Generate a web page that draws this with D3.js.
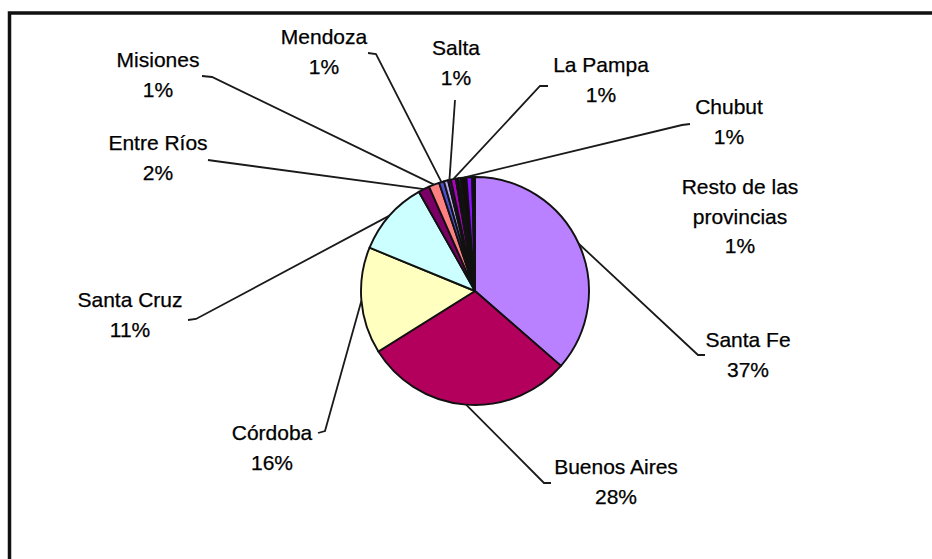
<!DOCTYPE html>
<html>
<head>
<meta charset="utf-8">
<script src="https://cdn.jsdelivr.net/npm/d3@7"></script>
<style>
  html, body { margin: 0; padding: 0; background: #fff; }
  svg { display: block; }
</style>
</head>
<body>
<svg id="chart" width="932" height="559"></svg>
<script>
// slices, clockwise from 12 o'clock (share of total)
const provinces = ["Santa Fe", "Buenos Aires", "Córdoba", "Santa Cruz", "Entre Ríos", "Misiones",
  "Mendoza", "", "Salta", "La Pampa", "", "", "Chubut", "", "Resto de las provincias"]
const shares = [36.4, 29.7, 15.1, 10.6, 1.6, 1.5, 0.7, 0.6, 0.4, 0.7, 0.4, 0.3, 0.8, 0.8, 0.4]
// percentages printed in the labels
const pctText = ["37%", "28%", "16%", "11%", "2%", "1%", "1%", "", "1%", "1%", "", "", "1%", "", "1%"]
const colors = ["#b980ff", "#b3005c", "#ffffc0", "#ccffff", "#7a0066", "#ff8080", "#4f4fd0",
  "#b8a8e8", "#4a0070", "#b000c0", "#150c0c", "#00a0a0", "#150c0c", "#8a10ff", "#150c0c"]

// label placement: [centre x, first line centre y, leader end x, y, elbow x, y] (null = no leader)
const labelPos = {
  "Santa Fe": [748, 340, 705, 355, 698, 355],
  "Buenos Aires": [616, 467, 551, 483, 544, 483],
  "Córdoba": [272, 433, 318, 433, 325, 431],
  "Santa Cruz": [130, 300, 188, 320, 196, 319],
  "Entre Ríos": [158, 143, 208, 160, 215, 161],
  "Misiones": [158, 60, 202, 76, 212, 77],
  "Mendoza": [324, 37, 368, 53, 376, 54],
  "Salta": [456, 48, 455, 100, 455, 100],
  "La Pampa": [601, 65, 548, 86, 540, 86],
  "Chubut": [729, 107, 690, 124, 682, 125],
  "Resto de las provincias": [740, 187, null, null, null, null]
}
const multiLine = { "Resto de las provincias": ["Resto de las", "provincias"] }

const cx = 475, cy = 291, radius = 114
const lineH = 29.5

const svg = d3.select("#chart")
  .attr("font-family", "'Liberation Sans', Arial, sans-serif")
  .attr("font-size", 21)

// frame
svg.append("rect")
  .attr("x", 9.5).attr("y", 13)
  .attr("width", 1000).attr("height", 1000)
  .attr("fill", "none")
  .attr("stroke", "#111")
  .attr("stroke-width", 3.5)

const data = provinces.map((p, i) => ({ name: p, value: shares[i], pct: pctText[i], color: colors[i] }))

const pie = d3.pie().sort(null).value(d => d.value)
const arcs = pie(data)
const arc = d3.arc().innerRadius(0).outerRadius(radius)

const g = svg.append("g").attr("transform", `translate(${cx},${cy})`)

// leader lines first so the pie covers their ends
const leaders = arcs.filter(d => d.data.name && labelPos[d.data.name][2] != null)
svg.append("g")
  .attr("fill", "none")
  .attr("stroke", "#1a1a1a")
  .attr("stroke-width", 1.8)
  .selectAll("polyline")
  .data(leaders)
  .join("polyline")
  .attr("points", d => {
    const p = labelPos[d.data.name]
    const a = (d.startAngle + d.endAngle) / 2
    const ex = cx + radius * Math.sin(a), ey = cy - radius * Math.cos(a)
    return [[p[2], p[3]], [p[4], p[5]], [ex, ey]].map(q => q.join(",")).join(" ")
  })

g.selectAll("path")
  .data(arcs)
  .join("path")
  .attr("d", arc)
  .attr("fill", d => d.data.color)
  .attr("stroke", "#111")
  .attr("stroke-width", 1.9)
  .attr("stroke-linejoin", "round")

// labels
const labels = svg.append("g")
  .attr("fill", "#000")
  .attr("stroke", "#000")
  .attr("stroke-width", 0.25)
  .attr("text-anchor", "middle")
  .selectAll("text")
  .data(data.filter(d => d.name))
  .join("text")
  .attr("transform", d => `translate(${labelPos[d.name][0]},${labelPos[d.name][1]})`)

labels.each(function (d) {
  const lines = (multiLine[d.name] || [d.name]).concat([d.pct])
  d3.select(this).selectAll("tspan")
    .data(lines)
    .join("tspan")
    .attr("x", 0)
    .attr("y", (l, i) => i * lineH)
    .attr("dy", "0.35em")
    .text(l => l)
})
</script>
</body>
</html>
